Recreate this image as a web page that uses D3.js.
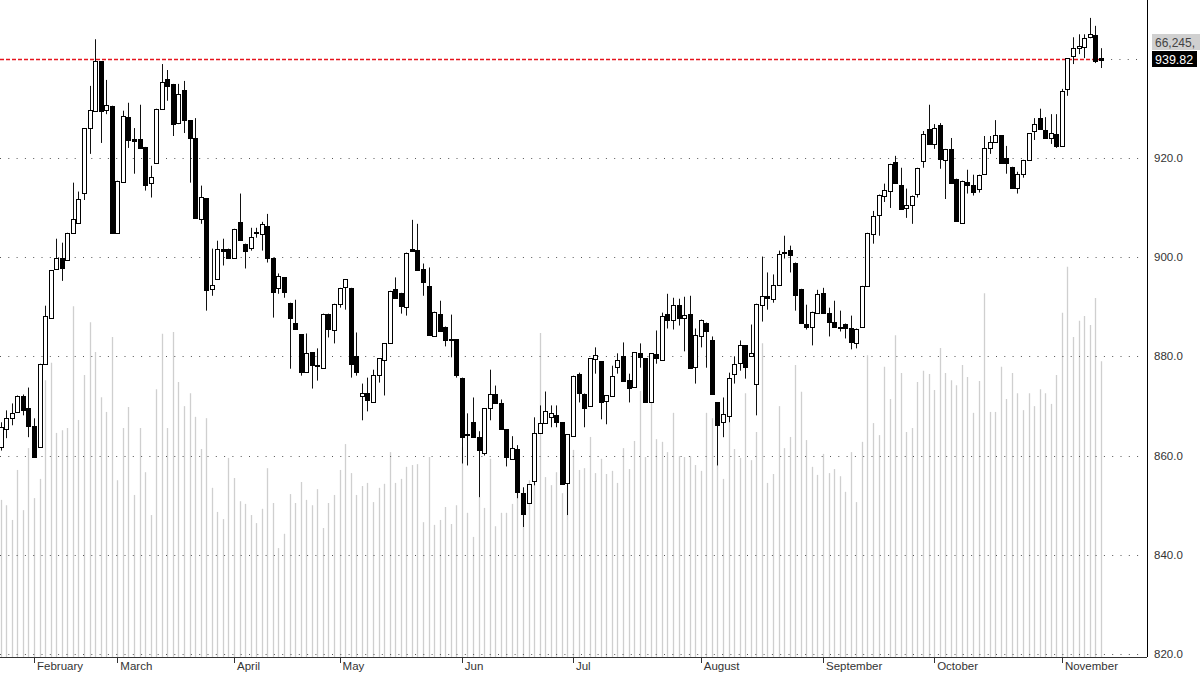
<!DOCTYPE html>
<html><head><meta charset="utf-8">
<script src="https://cdn.jsdelivr.net/npm/d3@7"></script>
<style>
body{margin:0;background:#fff;overflow:hidden}
svg{display:block;font-family:Arial,"Liberation Sans",sans-serif}
</style></head>
<body><svg id="chart" width="1200" height="674"></svg>
<script>
// ---- data ----
const openP = [861.6,865.3,867.5,868.7,871.9,869.5,865.9,861.8,878.5,887.6,897.7,899.9,899.5,904.9,906.9,912.8,926.0,929.5,939.5,929.7,
930.5,904.9,915.0,928.2,923.8,923.8,922.2,915.0,919.0,929.9,935.9,934.9,927.0,933.7,927.6,924.0,907.7,911.9,893.6,895.7,
901.7,901.7,899.9,907.1,902.7,901.9,904.8,904.7,906.3,899.9,893.6,895.9,890.8,886.8,884.4,876.7,880.8,878.0,877.7,888.6,
885.4,890.6,893.8,893.8,880.0,872.1,872.7,870.9,876.1,879.2,882.8,893.6,892.8,890.0,901.7,901.5,897.5,894.2,884.2,888.6,
886.0,883.4,883.4,875.7,864.3,866.7,863.7,860.4,869.7,872.5,870.5,865.3,859.4,861.4,852.4,850.4,854.8,864.5,866.5,867.7,
868.1,866.7,854.4,864.1,876.5,872.5,869.9,879.4,879.0,870.9,872.1,877.7,880.0,875.3,873.7,880.6,879.6,870.7,880.4,879.4,
888.6,887.4,890.4,887.8,888.6,877.7,884.2,886.8,883.2,870.7,866.7,868.1,876.5,878.5,882.2,880.0,874.5,890.4,892.2,891.6,
894.4,900.9,901.5,898.9,893.6,886.6,886.0,888.8,892.8,888.8,887.0,886.0,886.6,885.8,882.8,886.0,894.2,904.7,908.5,912.4,
913.4,919.2,914.6,909.9,910.5,912.8,919.4,925.8,922.8,926.6,919.6,921.8,915.8,906.9,915.2,914.6,913.8,916.8,922.0,923.2,
924.6,920.0,918.2,914.0,916.8,919.6,925.4,928.0,925.6,924.0,924.8,922.4,933.9,940.5,942.1,942.3,944.3,944.7,940.2];
const highP = [866.7,869.1,870.5,872.1,872.3,873.7,867.5,878.5,890.2,897.3,903.7,902.9,904.9,915.0,913.2,926.0,934.5,943.9,939.5,935.7,
930.5,915.4,929.5,931.1,926.0,930.7,922.2,918.4,929.9,938.9,937.7,934.9,934.9,935.5,927.6,928.0,914.4,911.9,901.7,903.3,
903.7,901.7,905.7,912.8,902.7,905.9,905.9,907.1,908.7,899.9,896.7,895.9,890.8,891.4,884.4,884.6,880.8,881.6,888.6,888.6,
890.6,893.8,895.5,893.8,884.8,874.5,875.7,877.3,879.6,882.6,893.2,895.9,892.8,900.9,907.5,906.7,898.7,897.9,889.0,891.2,
886.0,888.4,883.4,875.7,868.5,871.7,864.9,869.5,877.3,874.1,871.3,865.3,863.9,862.1,853.6,854.2,867.7,870.1,872.9,870.1,
870.1,866.7,864.3,876.1,876.7,872.5,879.6,881.8,879.0,872.1,878.1,880.6,882.8,876.5,880.8,882.6,879.6,880.6,885.2,888.8,
892.6,891.8,891.6,892.0,892.2,885.6,887.4,886.8,884.0,870.7,871.7,876.7,880.0,883.2,882.2,886.4,890.6,900.1,896.9,896.5,
901.3,904.3,902.3,898.9,893.6,890.4,889.0,893.4,893.8,889.8,891.2,889.2,886.6,888.2,885.6,894.2,904.9,909.3,912.6,914.8,
918.8,920.4,918.0,913.8,912.4,918.0,925.4,930.7,926.8,927.0,921.8,924.0,915.8,915.4,917.6,916.6,916.6,924.4,924.4,927.6,
924.6,922.4,918.2,917.2,919.6,925.0,928.0,929.9,928.2,928.8,928.8,933.9,940.1,944.3,944.9,944.9,948.2,946.6,942.1];
const lowP = [861.0,863.5,866.1,868.7,868.1,863.7,859.6,861.6,878.5,887.6,897.7,895.2,899.5,904.9,906.7,911.5,920.8,929.5,923.0,928.8,
904.9,904.9,915.0,922.0,916.8,922.0,913.4,912.0,919.0,929.9,931.5,924.4,926.8,925.0,915.0,907.9,906.7,889.2,892.2,895.7,
898.3,899.9,899.9,903.3,897.7,901.3,903.9,901.3,898.9,887.8,892.6,891.8,877.5,885.6,876.1,876.7,873.5,875.1,877.7,883.8,
882.6,889.8,889.4,875.7,876.1,867.1,868.9,870.9,874.7,872.1,882.8,891.8,888.6,888.2,901.3,897.5,892.2,884.4,884.2,885.2,
882.0,879.8,875.7,858.4,858.0,863.7,851.6,860.0,867.1,870.7,865.3,857.8,859.4,851.4,845.6,850.4,854.0,864.5,866.5,865.7,
865.7,854.2,848.0,864.1,870.7,865.7,869.9,876.5,867.3,866.3,872.1,876.5,874.9,870.7,873.7,877.7,870.7,870.7,878.5,879.4,
885.6,885.4,886.2,881.0,877.7,874.5,881.8,877.7,872.3,858.0,863.7,866.7,874.5,877.1,875.5,880.0,868.1,887.0,889.4,890.8,
894.2,899.7,896.9,889.2,886.8,885.4,882.2,888.8,888.8,884.0,886.0,885.0,883.6,881.4,881.6,886.0,894.2,902.7,904.3,911.1,
909.9,915.0,909.7,907.9,906.7,912.0,918.0,922.8,921.8,917.8,911.7,915.0,907.3,906.9,912.8,912.4,913.0,916.8,920.8,923.2,
919.0,916.8,914.0,912.8,916.0,919.6,923.6,925.8,924.0,922.8,922.0,922.4,932.5,938.9,940.9,940.1,944.1,939.1,938.1];
const closeP = [865.7,867.5,868.5,871.9,869.1,865.9,859.6,878.5,888.2,897.3,899.9,897.9,904.9,907.7,911.7,926.0,929.7,939.5,929.5,930.7,
904.9,915.4,928.4,923.6,923.4,922.0,914.6,916.2,929.9,935.3,934.5,926.8,932.9,927.6,924.0,907.9,912.1,893.4,894.4,901.7,
901.3,899.9,905.7,903.5,901.3,904.1,905.0,906.7,899.9,893.0,896.1,892.8,887.8,885.6,876.7,880.6,878.1,878.2,888.6,885.6,
890.6,893.8,895.5,878.5,876.7,872.7,871.3,876.3,879.6,882.6,893.2,891.8,890.2,900.9,901.3,897.5,894.8,884.4,889.0,885.2,
883.4,883.3,876.1,863.9,864.4,863.7,861.0,869.5,872.5,870.7,865.3,859.6,861.6,852.8,848.2,854.2,864.5,866.5,868.9,868.5,
866.7,854.2,864.3,876.1,872.7,869.7,879.6,880.2,870.7,872.1,876.1,879.2,874.9,873.7,880.8,879.8,870.7,880.6,879.6,888.2,
887.4,890.4,887.8,888.4,877.7,884.2,887.4,885.2,872.3,866.1,868.3,875.7,878.5,882.2,877.7,880.6,890.6,892.2,891.8,894.4,
900.7,901.1,900.5,892.4,886.8,886.0,889.0,892.6,888.8,887.0,886.0,885.8,885.8,883.0,885.6,894.2,904.9,908.3,912.6,913.6,
918.8,915.0,909.7,910.5,912.4,918.0,924.8,922.8,926.0,919.8,921.8,915.0,907.3,915.4,914.6,913.2,916.6,922.0,923.2,924.6,
919.0,919.0,914.0,916.8,919.6,925.0,926.8,925.8,924.0,925.0,922.4,933.5,940.1,942.1,942.5,944.1,944.9,939.5,939.82];
// volume, millions
const volumeM = [35.2,34.0,30.7,41.9,32.9,46.8,35.6,39.9,62.0,65.9,50.2,50.8,51.3,78.6,53.1,63.2,75.0,68.3,58.2,54.9,
71.7,39.6,51.3,56.0,36.3,51.3,41.4,31.8,60.0,72.4,51.3,72.8,61.6,56.2,59.1,53.8,46.6,53.5,37.9,32.5,
30.9,44.6,40.1,34.9,34.3,31.8,30.0,33.2,42.3,34.5,24.4,27.6,36.5,34.5,39.2,35.2,34.0,37.6,28.9,34.5,
36.3,41.9,47.7,41.2,36.3,38.3,39.0,34.7,37.9,38.8,45.9,39.0,39.9,42.6,43.0,43.2,30.2,44.8,29.6,30.7,
33.6,29.8,34.0,47.0,32.3,26.9,35.8,33.4,44.4,29.3,32.3,32.3,34.3,43.0,37.4,39.6,39.0,72.6,40.3,38.5,
41.4,36.7,39.0,46.4,41.9,42.3,49.3,41.2,44.4,41.0,41.7,39.0,46.8,42.1,48.4,59.6,44.8,56.9,48.8,48.2,
45.9,54.7,45.0,44.8,45.0,43.0,41.7,54.7,53.5,44.1,39.9,52.6,46.6,44.6,59.1,44.1,50.4,70.3,39.0,41.0,
56.2,46.8,49.3,65.4,59.4,48.6,42.6,40.8,45.5,41.2,42.1,40.5,37.0,45.9,34.7,48.2,67.6,52.4,49.7,65.0,
57.8,72.1,63.6,50.4,51.3,61.6,64.1,63.4,59.8,69.2,63.6,62.0,60.9,65.4,62.7,54.7,61.8,81.5,54.9,54.9,
65.0,57.8,63.6,59.1,55.3,59.1,56.2,60.0,59.1,56.7,63.2,77.1,87.4,71.7,75.3,76.4,74.4,80.4,66.245];
const monthNames = ["February","March","April","May","Jun","Jul","August","September","October","November"];
const monthStart = [6,21,42,61,83,103,126,148,168,191];
const gridTicks = [820,840,860,880,900,920,940];
const labelTicks = [820,840,860,880,900,920];

// ---- layout ----
const axisX=1147, baseY=657;
const svg=d3.select("#chart");
const idx=d3.range(closeP.length);
const x=d3.scaleBand().domain(idx).range([-2.1,1103.6]).padding(0);
const cx=i=>x(i)+x.bandwidth()/2;
const y=d3.scaleLinear().domain([820,940]).range([654,58.6]);
const yv=d3.scaleLinear().domain([0,100]).range([baseY,baseY-446.4]);

// volume bars
svg.append("g").selectAll("line").data(idx).join("line")
  .attr("x1",i=>Math.round(cx(i))+0.5).attr("x2",i=>Math.round(cx(i))+0.5)
  .attr("y1",baseY).attr("y2",i=>yv(volumeM[i]))
  .attr("stroke","#cfcfcf").attr("stroke-width",1.3);

// grid
const last=closeP[closeP.length-1];
const lastX=cx(closeP.length-1)+2;
svg.append("g").selectAll("line").data(gridTicks).join("line")
  .attr("x1",d=>d===940?lastX:0).attr("x2",axisX-3)
  .attr("y1",d=>Math.round(y(d))+0.5).attr("y2",d=>Math.round(y(d))+0.5)
  .attr("stroke","#555").attr("stroke-width",1).attr("stroke-dasharray","1,7.3");

// last price line (red dashed)
const ly=Math.floor(y(last))+0.5;
svg.append("line").attr("x1",0).attr("x2",lastX)
  .attr("y1",ly).attr("y2",ly)
  .style("stroke","rgb(230,20,30)").style("stroke-width","1.6px")
  .style("stroke-dasharray","4,2");

// candles
const g=svg.append("g");
g.selectAll("line.w").data(idx).join("line").attr("class","w")
  .attr("x1",i=>Math.round(cx(i))+0.5).attr("x2",i=>Math.round(cx(i))+0.5)
  .attr("y1",i=>y(highP[i])).attr("y2",i=>y(lowP[i]))
  .attr("stroke","#111").attr("stroke-width",1);
g.selectAll("rect").data(idx).join("rect")
  .attr("x",i=>Math.round(cx(i))-1.5)
  .attr("width",4)
  .attr("y",i=>Math.round(y(Math.max(openP[i],closeP[i])))+0.5)
  .attr("height",i=>Math.max(1,Math.round(Math.abs(y(openP[i])-y(closeP[i])))))
  .attr("fill",i=>closeP[i]>=openP[i]?"#fff":"#000")
  .attr("stroke","#000").attr("stroke-width",1);

// right axis
svg.append("line").attr("x1",axisX+0.5).attr("x2",axisX+0.5).attr("y1",0).attr("y2",baseY)
  .attr("stroke","#000").attr("stroke-width",1);
svg.append("g").selectAll("text").data(labelTicks).join("text")
  .attr("x",axisX+7).attr("y",d=>y(d)+4)
  .attr("font-size",11.5).attr("fill","#333")
  .text(d=>d3.format(".1f")(d));

// x axis
svg.append("line").attr("x1",0).attr("x2",axisX).attr("y1",baseY+0.5).attr("y2",baseY+0.5)
  .attr("stroke","#333");
const mt=svg.append("g");
mt.selectAll("line").data(monthStart).join("line")
  .attr("x1",i=>Math.round(cx(i))+0.5).attr("x2",i=>Math.round(cx(i))+0.5)
  .attr("y1",baseY).attr("y2",baseY+6).attr("stroke","#333");
mt.selectAll("text").data(monthStart).join("text")
  .attr("x",i=>cx(i)+3).attr("y",baseY+13)
  .attr("font-size",11.5).attr("fill","#333")
  .text((d,k)=>monthNames[k]);

// last value labels
const lastVol=volumeM[volumeM.length-1];
svg.append("rect").attr("x",axisX+5).attr("y",34).attr("width",53).attr("height",16).attr("fill","#d0d0d0");
svg.append("text").attr("x",axisX+8).attr("y",46.5).attr("font-size",12).attr("fill","#444")
  .text(d3.format(",")(Math.round(lastVol*1e3))+",");
svg.append("rect").attr("x",axisX+5).attr("y",51).attr("width",45).attr("height",16).attr("fill","#000");
svg.append("text").attr("x",axisX+8).attr("y",63.5).attr("font-size",12.5).attr("fill","#fff")
  .text(d3.format(".2f")(last));
</script></body></html>
